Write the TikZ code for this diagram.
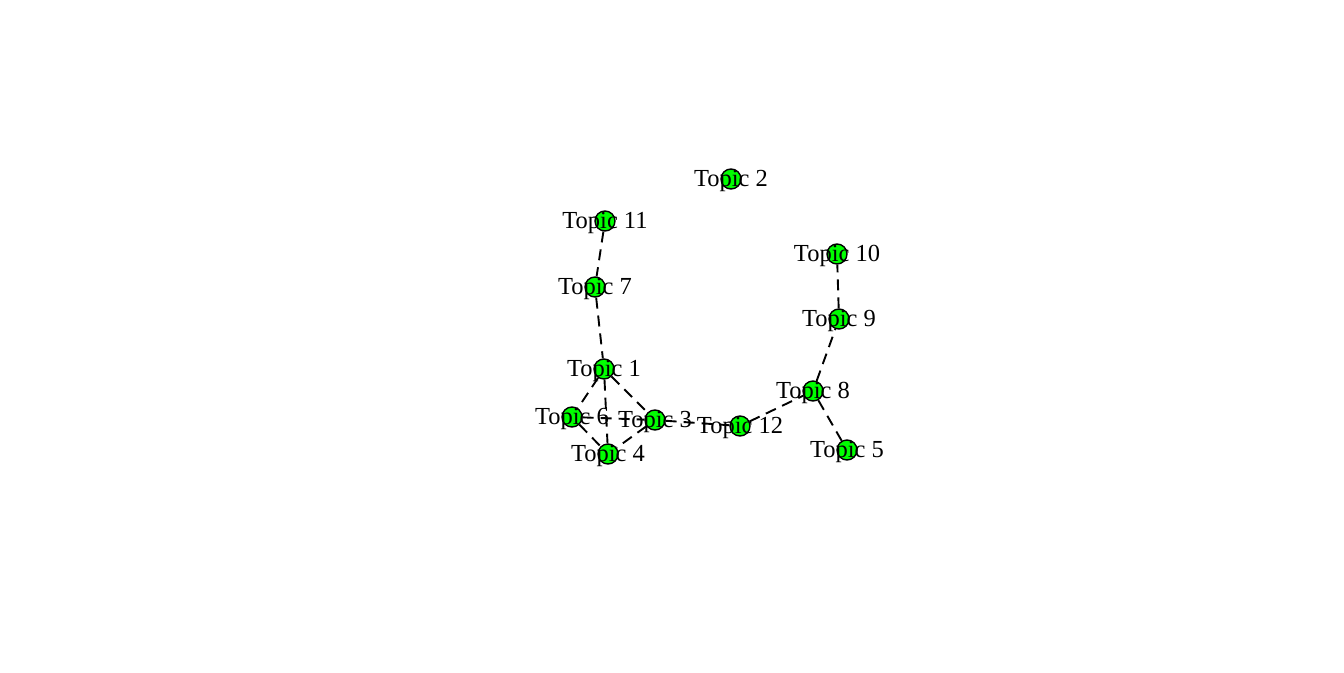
\documentclass[tikz,border=0pt]{standalone}
\usepackage{fontspec}
\setmainfont{Liberation Serif}
\usetikzlibrary{backgrounds}
\definecolor{vgreen}{RGB}{0,255,0}

\begin{document}
\begin{tikzpicture}[
    x=1pt, y=-1pt,
    topic/.style={
      circle, draw=black, fill=vgreen, line width=1.4pt,
      minimum size=20pt, inner sep=0pt,
      label={[font=\fontsize{24.5}{28}\selectfont, inner sep=0pt,
              yshift=-2pt]center:#1}
    },
    link/.style={dash pattern=on 11pt off 7pt, line width=1.9pt}
  ]
  \useasboundingbox (0,0) rectangle (1344,672);

  \node[topic={Topic 1}]  (t1)  at (604,369) {};
  \node[topic={Topic 2}]  (t2)  at (731,179) {};
  \node[topic={Topic 3}]  (t3)  at (655,420) {};
  \node[topic={Topic 4}]  (t4)  at (608,454) {};
  \node[topic={Topic 5}]  (t5)  at (847,450) {};
  \node[topic={Topic 6}]  (t6)  at (572,417) {};
  \node[topic={Topic 7}]  (t7)  at (595,287) {};
  \node[topic={Topic 8}]  (t8)  at (813,391) {};
  \node[topic={Topic 9}]  (t9)  at (839,319) {};
  \node[topic={Topic 10}] (t10) at (837,254) {};
  \node[topic={Topic 11}] (t11) at (605,221) {};
  \node[topic={Topic 12}] (t12) at (740,426) {};

  \begin{scope}[on background layer]
    \draw[link] (t11) -- (t7);
    \draw[link] (t7) -- (t1);
    \draw[link] (t1) -- (t6);
    \draw[link] (t1) -- (t4);
    \draw[link] (t1) -- (t3);
    \draw[link] (t6) -- (t3);
    \draw[link] (t6) -- (t4);
    \draw[link] (t3) -- (t4);
    \draw[link] (t3) -- (t12);
    \draw[link] (t12) -- (t8);
    \draw[link] (t8) -- (t9);
    \draw[link] (t9) -- (t10);
    \draw[link] (t8) -- (t5);
  \end{scope}
\end{tikzpicture}
\end{document}
